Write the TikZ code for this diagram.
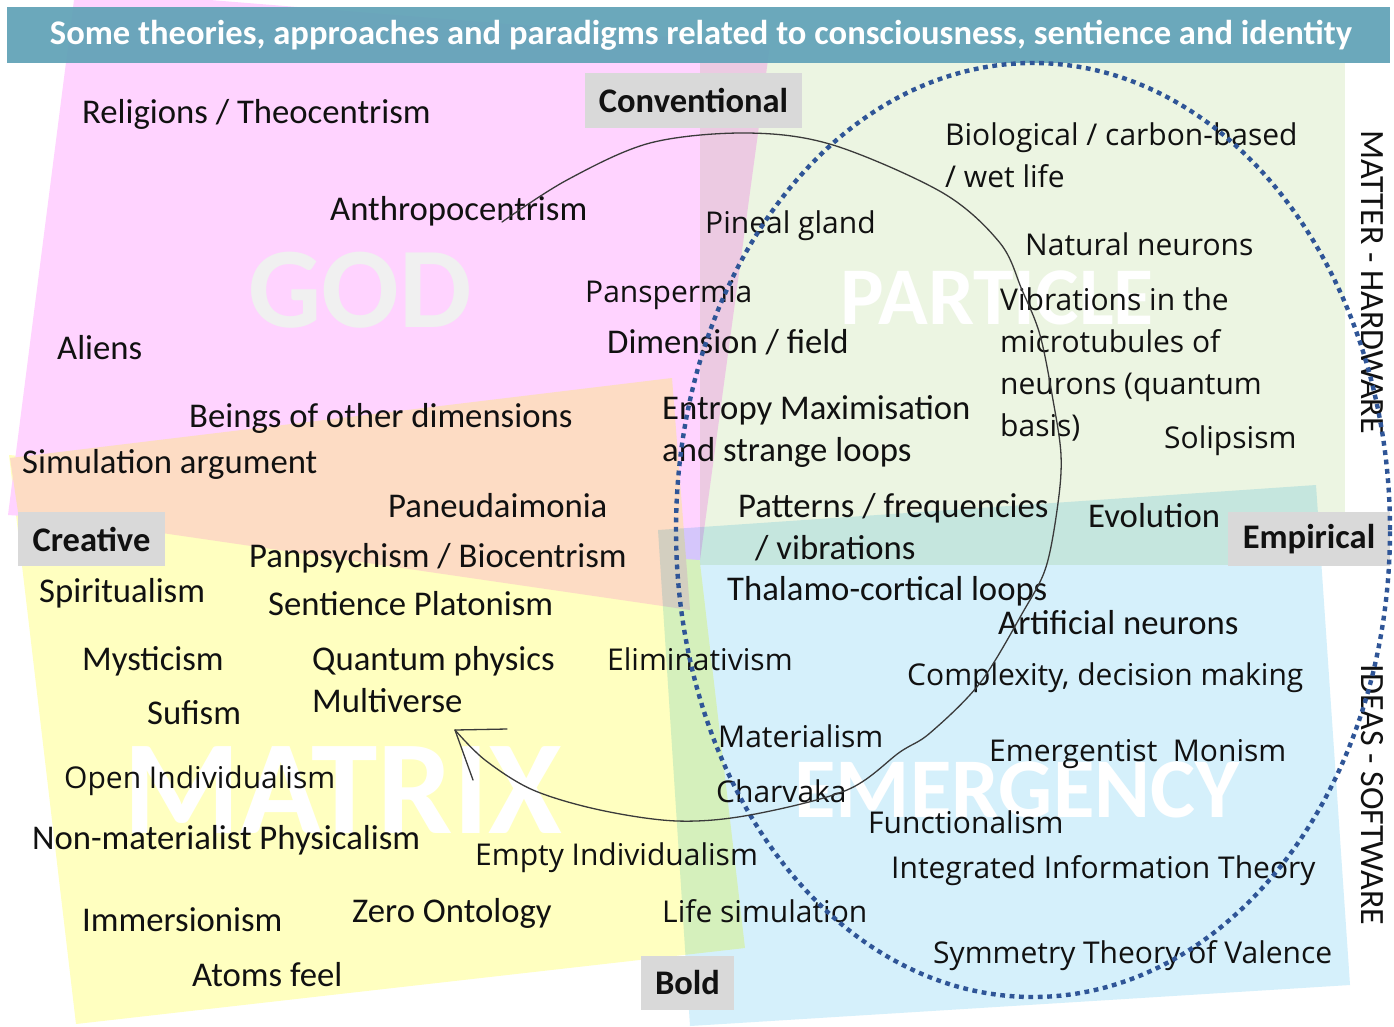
\documentclass[tikz,border=0pt]{standalone}
\usepackage{fontspec}
\usepackage{graphicx}
\setmainfont{Carlito}
\newfontfamily\segfont{Open Sans}
\usetikzlibrary{arrows.meta}

\definecolor{zyellow}{HTML}{FFFFC0}
\definecolor{zpink}{HTML}{FFD3FF}
\definecolor{zorange}{HTML}{FDDCC4}
\definecolor{zgreen}{HTML}{ECF5E2}
\definecolor{zblue}{HTML}{D5F0FB}
\definecolor{ttlbar}{HTML}{62A3B7}
\definecolor{tagbg}{HTML}{D9D9D9}
\definecolor{txt}{HTML}{111111}
\definecolor{godgrey}{HTML}{F0F0F0}
\definecolor{ringblue}{HTML}{2F5597}
\definecolor{arcgrey}{HTML}{3A3A3A}

\tikzset{
  cal/.style={anchor=base west, inner sep=0pt, text=txt, align=left,
    font=\fontsize{34.7}{42}\selectfont},
  seg/.style={anchor=base west, inner sep=0pt, text=txt, align=left,
    font=\segfont\fontsize{30}{42}\selectfont},
  tagbox/.style={fill=tagbg, inner sep=0pt, text=txt,
    font=\bfseries\fontsize{34.5}{40}\selectfont},
  watermark/.style={inner sep=0pt, font=\bfseries},
  sidelabel/.style={rotate=-90, inner sep=0pt, text=txt,
    font=\fontsize{34}{40}\selectfont},
  dotring/.style={draw=ringblue, line width=4.4pt,
    dash pattern=on 4.8pt off 4.6pt},
  arcline/.style={draw=arcgrey, line width=1.3pt, line cap=round, line join=round}
}

\begin{document}
\begin{tikzpicture}[x=1pt,y=-1pt]
\useasboundingbox (0,0) rectangle (1394,1026);
\fill[white] (0,0) rectangle (1394,1026);

% --- coloured quadrants ---
\fill[zyellow] (9,455) -- (695,520) -- (745,948) -- (76,1024) -- cycle;
\fill[zpink] (74,0) -- (210,0) -- (770,45) -- (700,560) -- (8,515) -- cycle;
\fill[zorange] (10,458) -- (672,378) -- (690,610) -- (18,512) -- cycle;
\begin{scope}[blend mode=multiply]
  \fill[zgreen] (700,63) -- (1345,63) -- (1345,565) -- (700,565) -- cycle;
  \fill[zblue] (658,530) -- (1316,485) -- (1350,985) -- (690,1026) -- cycle;
\end{scope}

% --- title bar ---
\fill[ttlbar, opacity=0.94] (7,7) rectangle (1390,63);
\node[text=white, inner sep=0pt, font=\bfseries\fontsize{30}{36}\selectfont]
  (title) at (701,35)
  {\resizebox{1302pt}{!}{Some theories, approaches and paradigms related to consciousness, sentience and identity}};

% --- large background words ---
\node[watermark, text=godgrey, font=\bfseries\fontsize{115}{115}\selectfont] (god) at (360,290) {GOD};
\node[watermark, text=white, font=\bfseries\fontsize{82}{82}\selectfont] (particle) at (997,298) {PARTICLE};
\node[watermark, text=white, font=\bfseries\fontsize{134}{134}\selectfont] (matrix) at (343,790) {MATRIX};
\node[watermark, text=white, font=\bfseries\fontsize{85}{85}\selectfont] (emergency) at (1017,790) {EMERGENCY};

% --- axis tags ---
\node[tagbox, minimum width=217pt, minimum height=55pt] (conventional) at (693.5,100.5) {Conventional};
\node[tagbox, minimum width=147pt, minimum height=54pt] (creative) at (91.5,539) {Creative};
\node[tagbox, minimum width=162pt, minimum height=54pt] (empirical) at (1309,539) {Empirical};
\node[tagbox, minimum width=93pt, minimum height=54pt] (boldtag) at (687.5,983) {Bold};

\node[sidelabel] (matter) at (1372,282) {MATTER - HARDWARE};
\node[sidelabel] (ideas) at (1372,795) {IDEAS - SOFTWARE};

% --- theories: GOD ---
\node[cal] (religions) at (82,123) {Religions / Theocentrism};
\node[cal] (anthropo) at (330,220) {Anthropocentrism};
\node[cal] (aliens) at (57,359) {Aliens};
\node[cal] (beings) at (189,427) {Beings of other dimensions};
\node[cal] (simarg) at (22,473) {Simulation argument};
\node[cal] (paneud) at (388,517) {Paneudaimonia};
\node[seg] (pansperm) at (585,302) {Panspermia};
\node[cal] (dimfield) at (607,353) {Dimension / field};

% --- theories: MATRIX ---
\node[cal] (panpsy) at (249,567) {Panpsychism / Biocentrism};
\node[cal] (spirit) at (39,602) {Spiritualism};
\node[cal] (sentpl) at (268,615) {Sentience Platonism};
\node[cal] (mystic) at (82,670) {Mysticism};
\node[cal] (quantum) at (312,670) {Quantum physics};
\node[cal] (multiv) at (312,712) {Multiverse};
\node[cal] (sufism) at (147,724) {Sufism};
\node[seg] (openind) at (64,788) {Open Individualism};
\node[cal] (nonmat) at (32,849) {Non-materialist Physicalism};
\node[seg] (emptyind) at (475,865) {Empty Individualism};
\node[cal] (immers) at (82,931) {Immersionism};
\node[cal] (zeroont) at (352,922) {Zero Ontology};
\node[cal] (atoms) at (192,986) {Atoms feel};

% --- theories: PARTICLE (multi-line nodes sit on their last baseline) ---
\node[seg] (pineal) at (705,233) {Pineal gland};
\node[cal] (entropy) at (662,461) {Entropy Maximisation\\and strange loops};
\node[cal] (patterns) at (738,559) {Patterns / frequencies\\\hspace*{17pt}/ vibrations};
\node[seg] (biolog) at (945,187) {Biological / carbon-based\\/ wet life};
\node[seg] (natneur) at (1025,255) {Natural neurons};
\node[seg] (vibr) at (1000,436) {Vibrations in the\\microtubules of\\neurons (quantum\\basis)};
\node[seg] (solip) at (1164,448) {Solipsism};
\node[cal] (evol) at (1088,527) {Evolution};

% --- theories: EMERGENCY ---
\node[cal] (thalamo) at (727,600) {Thalamo-cortical loops};
\node[cal] (artneur) at (998,634) {Artificial neurons};
\node[seg] (elimin) at (607,670) {Eliminativism};
\node[seg] (complex) at (907,685) {Complexity, decision making};
\node[seg] (materi) at (718,747) {Materialism};
\node[seg] (emergm) at (989,761) {Emergentist\ \ Monism};
\node[seg] (charv) at (716,802) {Charvaka};
\node[seg] (funct) at (868,833) {Functionalism};
\node[seg] (iit) at (891,878) {Integrated Information Theory};
\node[seg] (lifesim) at (662,922) {Life simulation};
\node[seg] (stv) at (933,963) {Symmetry Theory of Valence};

% --- dotted ring of the physical view ---
\draw[dotring] (1033,530) ellipse [x radius=357pt, y radius=467pt];

% --- cycle arrow: curved loop ending in an open arrowhead ---
\coordinate (loopstart) at (502,222);
\coordinate (looptip) at (455,730);
\draw[arcline] plot[smooth, tension=0.55] coordinates {
  (502,222) (567,180) (650,143) (747,133) (833,145) (943,193)
  (1000,243) (1022,290) (1040,335) (1053,400) (1061,455) (1058,503)
  (1046,567) (1023,612) (980,683) (930,733) (900,752) (847,790)
  (750,815) (677,821) (600,810) (533,790) (485,760) (455,730)};
\draw[arcline] (looptip) -- ++(52,-1);
\draw[arcline] (looptip) -- ++(18,50);
\end{tikzpicture}
\end{document}
